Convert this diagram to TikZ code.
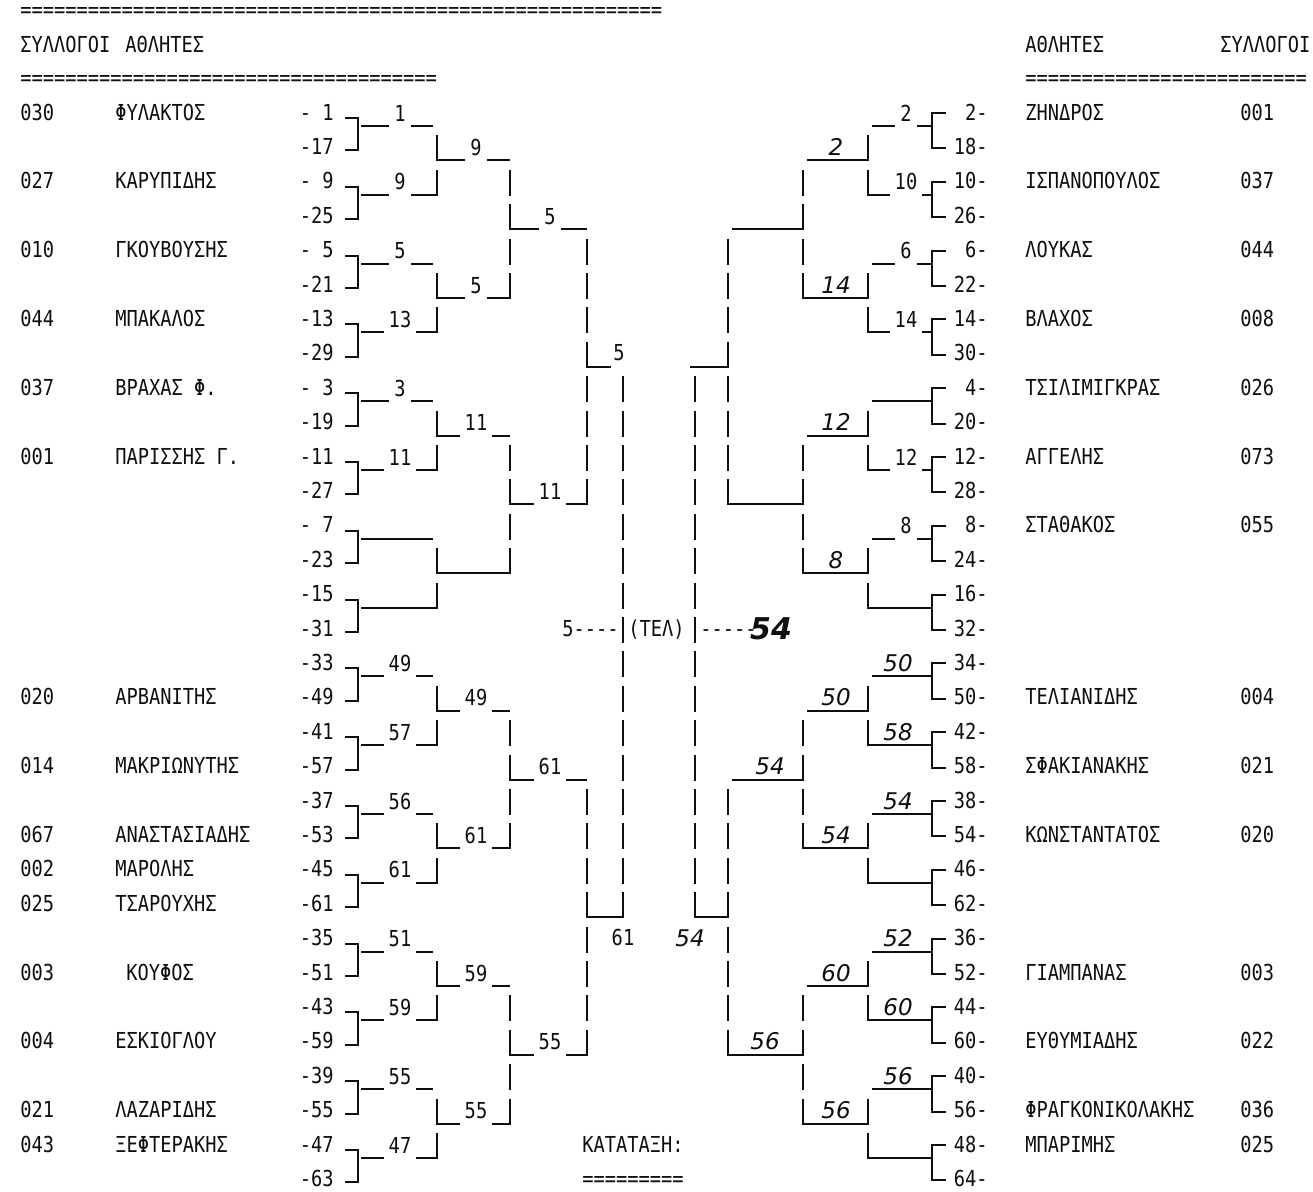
\documentclass[tikz,border=0pt]{standalone}
\usepackage{fontspec}
\newfontfamily\typefam{DejaVu Sans Mono}[FakeStretch=0.85]
\newfontfamily\handfam{DejaVu Sans}
\newcommand\twfont{\typefam\fontsize{11}{13}\selectfont}
\newcommand\hwfont{\handfam\itshape\fontsize{11.5}{13}\selectfont}
\newcommand\rowy[1]{(113+34.4*(#1))}
\definecolor{ink}{RGB}{15,15,15}
\usetikzlibrary{positioning}

\begin{document}
\begin{tikzpicture}[x=0.5pt,y=-0.5pt,
  typed/.style={font=\twfont,text=ink,inner sep=0pt},
  txtL/.style={typed,anchor=base west},
  txtR/.style={typed,anchor=base east},
  lbl/.style={typed,anchor=base},
  score/.style={lbl,fill=white,inner xsep=2.5pt,inner ysep=3pt},
  hand/.style={font=\hwfont,text=ink,anchor=base,inner sep=0pt},
  wire/.style={draw=ink,line width=1pt}
]
  \fill[white] (0,0) rectangle (1313,1191);
  \useasboundingbox (0,0) rectangle (1313,1191);

  % headings
  \node[txtL] (ruletop) at (20,17) {=========================================================};
  \node[txtL] (hclubL) at (20,52) {ΣΥΛΛΟΓΟΙ};
  \node[txtL] (hathL) at (125,52) {ΑΘΛΗΤΕΣ};
  \node[txtL] (ruleL) at (20,85) {=====================================};
  \node[txtL] (hathR) at (1025,52) {ΑΘΛΗΤΕΣ};
  \node[txtL] (hclubR) at (1220,52) {ΣΥΛΛΟΓΟΙ};
  \node[txtL] (ruleR) at (1025,85) {=========================};

  % left players
  \foreach \r/\cl/\nm/\xn in {0/030/ΦΥΛΑΚΤΟΣ/115, 2/027/ΚΑΡΥΠΙΔΗΣ/115,
      4/010/ΓΚΟΥΒΟΥΣΗΣ/115, 6/044/ΜΠΑΚΑΛΟΣ/115, 8/037/ΒΡΑΧΑΣ Φ./115,
      10/001/ΠΑΡΙΣΣΗΣ Γ./115, 17/020/ΑΡΒΑΝΙΤΗΣ/115, 19/014/ΜΑΚΡΙΩΝΥΤΗΣ/115,
      21/067/ΑΝΑΣΤΑΣΙΑΔΗΣ/115, 22/002/ΜΑΡΟΛΗΣ/115, 23/025/ΤΣΑΡΟΥΧΗΣ/115,
      25/003/ΚΟΥΦΟΣ/126, 27/004/ΕΣΚΙΟΓΛΟΥ/115, 29/021/ΛΑΖΑΡΙΔΗΣ/115,
      30/043/ΞΕΦΤΕΡΑΚΗΣ/115} {
    \node[txtL] (lclub\r) at (20,{\rowy{\r}+7}) {\cl};
    \node[txtL] (lname\r) at (\xn,{\rowy{\r}+7}) {\nm};
  }

  % right players
  \foreach \r/\nm/\cl in {0/ΖΗΝΔΡΟΣ/001, 2/ΙΣΠΑΝΟΠΟΥΛΟΣ/037, 4/ΛΟΥΚΑΣ/044,
      6/ΒΛΑΧΟΣ/008, 8/ΤΣΙΛΙΜΙΓΚΡΑΣ/026, 10/ΑΓΓΕΛΗΣ/073, 12/ΣΤΑΘΑΚΟΣ/055,
      17/ΤΕΛΙΑΝΙΔΗΣ/004, 19/ΣΦΑΚΙΑΝΑΚΗΣ/021, 21/ΚΩΝΣΤΑΝΤΑΤΟΣ/020,
      25/ΓΙΑΜΠΑΝΑΣ/003, 27/ΕΥΘΥΜΙΑΔΗΣ/022, 29/ΦΡΑΓΚΟΝΙΚΟΛΑΚΗΣ/036,
      30/ΜΠΑΡΙΜΗΣ/025} {
    \node[txtL] (rname\r) at (1025,{\rowy{\r}+7}) {\nm};
    \node[txtL] (rclub\r) at (1240,{\rowy{\r}+7}) {\cl};
  }

  % seeds
  \foreach \r/\s in {0/-\phantom{0}1, 1/-17, 2/-\phantom{0}9, 3/-25, 4/-\phantom{0}5,
      5/-21, 6/-13, 7/-29, 8/-\phantom{0}3, 9/-19, 10/-11, 11/-27, 12/-\phantom{0}7,
      13/-23, 14/-15, 15/-31, 16/-33, 17/-49, 18/-41, 19/-57, 20/-37, 21/-53,
      22/-45, 23/-61, 24/-35, 25/-51, 26/-43, 27/-59, 28/-39, 29/-55, 30/-47, 31/-63}
    \node[txtR] (lseed\r) at (334,{\rowy{\r}+7}) {\s};
  \foreach \r/\s in {0/\phantom{0}2-, 1/18-, 2/10-, 3/26-, 4/\phantom{0}6-, 5/22-,
      6/14-, 7/30-, 8/\phantom{0}4-, 9/20-, 10/12-, 11/28-, 12/\phantom{0}8-, 13/24-,
      14/16-, 15/32-, 16/34-, 17/50-, 18/42-, 19/58-, 20/38-, 21/54-, 22/46-,
      23/62-, 24/36-, 25/52-, 26/44-, 27/60-, 28/40-, 29/56-, 30/48-, 31/64-}
    \node[txtR] (rseed\r) at (988,{\rowy{\r}+7}) {\s};

  % pair brackets
  \foreach \r in {0,2,...,30} {
    \draw[wire] (345,{\rowy{\r}+5}) -| (358,{\rowy{\r+1}+3}) -- (345,{\rowy{\r+1}+3});
    \draw[wire] (946,{\rowy{\r}}) -| (932,{\rowy{\r+1}+1}) -- (946,{\rowy{\r+1}+1});
  }

  % broken vertical bars, one per text row
  \foreach \r in {1,2,5,6,9,10,13,14,17,18,21,22,25,26,29,30}
    \foreach \x in {437,868} \draw[wire] (\x,{\rowy{\r}-12}) -- ++(0,26);
  \foreach \r in {2,3,4,5,10,11,12,13,18,19,20,21,26,27,28,29}
    \foreach \x in {510,803} \draw[wire] (\x,{\rowy{\r}-12}) -- ++(0,26);
  \foreach \r in {4,5,6,7,8,9,10,11,20,21,22,23,24,25,26,27}
    \foreach \x in {587,728} \draw[wire] (\x,{\rowy{\r}-12}) -- ++(0,26);
  \foreach \r in {8,...,23}
    \foreach \x in {623,695} \draw[wire] (\x,{\rowy{\r}-12}) -- ++(0,26);

  % left round 1
  \foreach \r in {0,2,...,30} {
    \pgfmathsetmacro\xe{mod(\r,4)==2 ? 437 : 433}
    \draw[wire] (361,{\rowy{\r}+13}) -- (\xe,{\rowy{\r}+13});
  }
  \foreach \r/\w in {0/1, 2/9, 4/5, 6/13, 8/3, 10/11, 16/49, 18/57, 20/56,
      22/61, 24/51, 26/59, 28/55, 30/47}
    \node[score] (lwa\r) at (400,{\rowy{\r}+8}) {\w};

  % left round 2
  \foreach \r in {1,5,...,29}
    \draw[wire] (437,{\rowy{\r}+13}) -- (510,{\rowy{\r}+13});
  \foreach \r/\w in {1/9, 5/5, 9/11, 17/49, 21/61, 25/59, 29/55}
    \node[score] (lwb\r) at (476,{\rowy{\r}+8}) {\w};

  % left round 3
  \foreach \r in {3,11,19,27}
    \draw[wire] (510,{\rowy{\r}+13}) -- (587,{\rowy{\r}+13});
  \foreach \r/\w in {3/5, 11/11, 19/61, 27/55}
    \node[score] (lwc\r) at (550,{\rowy{\r}+8}) {\w};

  % left semi-finals
  \draw[wire] (587,{\rowy{7}+13}) -- (611,{\rowy{7}+13});
  \node[lbl] (lwd7) at (619,{\rowy{7}+7}) {5};
  \draw[wire] (587,{\rowy{23}+13}) -- (623,{\rowy{23}+13});
  \node[lbl] (lwd23) at (623,{\rowy{24}+7}) {61};

  % final
  \node[txtR] (finL) at (619,{\rowy{15}+7}) {5----};
  \node[txtL] (fin) at (628,{\rowy{15}+7}) {(ΤΕΛ)};
  \node[txtL] (finR) at (700,{\rowy{15}+7}) {-----};
  \node[hand,font=\handfam\itshape\bfseries\fontsize{15}{17}\selectfont] (champ) at (771,{\rowy{15}+10}) {54};

  % right round 1
  \foreach \r in {0,2,...,30} {
    \pgfmathsetmacro\xs{mod(\r,4)==2 ? 868 : 872}
    \draw[wire] (\xs,{\rowy{\r}+13}) -- (932,{\rowy{\r}+13});
  }
  \foreach \r/\w in {0/2, 2/10, 4/6, 6/14, 10/12, 12/8}
    \node[score] (rwa\r) at (906,{\rowy{\r}+8}) {\w};
  \foreach \r/\w in {16/50, 18/58, 20/54, 24/52, 26/60, 28/56}
    \node[hand] (rwa\r) at (898,{\rowy{\r}+8}) {\w};

  % right round 2
  \foreach \r in {1,5,...,29} {
    \pgfmathsetmacro\xs{mod(\r,8)==5 ? 803 : 807}
    \draw[wire] (\xs,{\rowy{\r}+13}) -- (868,{\rowy{\r}+13});
  }
  \foreach \r/\w in {1/2, 5/14, 9/12, 13/8, 17/50, 21/54, 25/60, 29/56}
    \node[hand] (rwb\r) at (836,{\rowy{\r}+8}) {\w};

  % right round 3
  \foreach \r in {3,11,19,27} {
    \pgfmathsetmacro\xs{mod(\r,16)==3 ? 732 : 728}
    \draw[wire] (\xs,{\rowy{\r}+13}) -- (803,{\rowy{\r}+13});
  }
  \node[hand] (rwc19) at (770,{\rowy{19}+8}) {54};
  \node[hand] (rwc27) at (765,{\rowy{27}+8}) {56};

  % right semi-finals
  \draw[wire] (690,{\rowy{7}+13}) -- (728,{\rowy{7}+13});
  \draw[wire] (695,{\rowy{23}+13}) -- (728,{\rowy{23}+13});
  \node[hand] (rwd23) at (690,{\rowy{24}+8}) {54};

  % ranking
  \node[txtL] (rank) at (582,{\rowy{30}+7}) {ΚΑΤΑΤΑΞΗ:};
  \node[txtL] (rankrule) at (582,{\rowy{31}+7}) {=========};
\end{tikzpicture}
\end{document}
